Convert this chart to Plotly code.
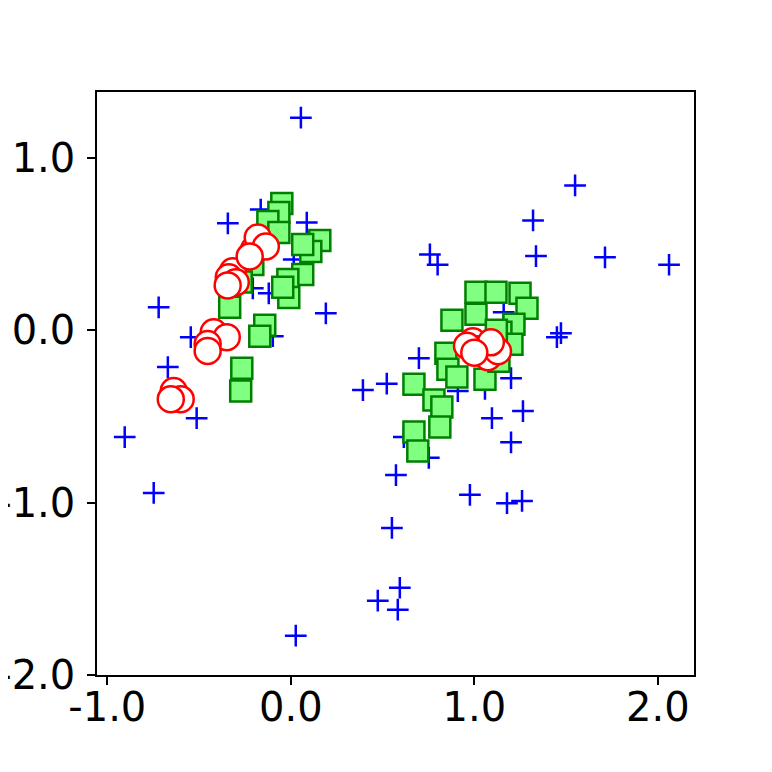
import plotly.graph_objects as go

# blue crosses
cross_x = [0.055, -0.905, -0.747, -0.72, -0.67, -0.513, -0.343, -0.164, 0.087, 0.191,
           -0.207, -0.12, -0.545, -0.098, 0.016, 0.393, 0.523, 1.549, 1.32, 0.758,
           0.80, 1.336, 1.712, 2.061, 1.472, 1.45, 0.698, 1.2, 0.91, 1.058,
           1.096, 1.265, 1.2, 0.752, 0.616, 0.573, 1.16, 0.976, 1.178, 1.26,
           0.551, 0.594, 0.474, 0.583, 0.027]
cross_y = [1.233, -0.62, -0.944, 0.133, -0.214, -0.51, 0.62, 0.70, 0.625, 0.098,
           0.243, 0.214, -0.04, -0.035, 0.41, -0.347, -0.31, 0.84, 0.637, 0.44,
           0.38, 0.43, 0.423, 0.38, -0.017, -0.04, -0.162, -0.278, -0.353, -0.34,
           -0.51, -0.469, -0.65, -0.74, -0.62, -0.84, 0.104, -0.955, -1.003, -0.99,
           -1.147, -1.494, -1.569, -1.621, -1.772]

# green squares
square_x = [-0.049, -0.065, -0.125, -0.065, 0.158, 0.109, 0.065, 0.065, -0.016, -0.011,
            -0.044, -0.333, -0.207, -0.27, -0.142, -0.169, -0.267, -0.273,
            1.009, 1.118, 1.249, 1.287, 1.009, 0.878, 1.216, 1.145, 1.205, 0.845,
            0.856, 0.905, 1.058, 0.671, 0.78, 0.823, 0.812, 0.671, 0.692, 1.134, 1.12]
square_y = [0.735, 0.683, 0.631, 0.567, 0.52, 0.457, 0.498, 0.324, 0.295, 0.19,
            0.249, 0.133, 0.382, 0.28, 0.029, -0.035, -0.22, -0.353,
            0.22, 0.22, 0.214, 0.127, 0.093, 0.058, 0.035, -0.012, -0.081, -0.133,
            -0.226, -0.272, -0.284, -0.313, -0.405, -0.446, -0.562, -0.591, -0.70, -0.18, 0.0]

# red open circles
circle_x = [-0.2, -0.18, -0.136, -0.316, -0.338, -0.3, -0.224, -0.344,
            -0.42, -0.349, -0.453, -0.453,
            -0.638, -0.6, -0.654,
            0.992, 1.02, 1.074, 1.129, 1.09, 0.96, 1.0]
circle_y = [0.47, 0.538, 0.486, 0.342, 0.307, 0.278, 0.428, 0.26,
            -0.012, -0.04, -0.08, -0.12,
            -0.353, -0.4, -0.4,
            -0.064, -0.11, -0.156, -0.122, -0.07, -0.09, -0.13]

x_ticks = [-1.0, 0.0, 1.0, 2.0]
x_tick_text = ["-1.0", "0.0", "1.0", "2.0"]
y_ticks = [-2.0, -1.0, 0.0, 1.0]
y_tick_text = ["-2.0", "-1.0", "0.0", "1.0"]

fig = go.Figure()
fig.add_trace(go.Scatter(x=cross_x, y=cross_y, mode="markers",
                         marker=dict(symbol="cross-thin", size=15.5, line=dict(color="#0000ff", width=2.5))))
fig.add_trace(go.Scatter(x=square_x, y=square_y, mode="markers",
                         marker=dict(symbol="square", size=21, color="#80ff80",
                                     line=dict(color="#008000", width=2.5))))
fig.add_trace(go.Scatter(x=circle_x, y=circle_y, mode="markers",
                         marker=dict(symbol="circle", size=26, color="#ffffff",
                                     line=dict(color="#ff0000", width=2.5))))

axis_common = dict(showgrid=False, zeroline=False, showline=True, linecolor="black", linewidth=1.5,
                   mirror=True, ticks="outside", ticklen=8, tickwidth=1.5, tickcolor="black",
                   automargin=False,
                   tickfont=dict(family="DejaVu Sans", size=40, color="black"))
fig.update_xaxes(range=[-1.056, 2.197], tickvals=x_ticks, ticktext=x_tick_text,
                 ticklabelstandoff=-12, **axis_common)
fig.update_yaxes(range=[-2.0, 1.382], tickvals=y_ticks, ticktext=y_tick_text,
                 ticklabelstandoff=4, **axis_common)
fig.update_layout(width=764, height=764, showlegend=False,
                  plot_bgcolor="white", paper_bgcolor="white",
                  margin=dict(l=89, r=78, t=84, b=97))
fig.write_html("out.html")
